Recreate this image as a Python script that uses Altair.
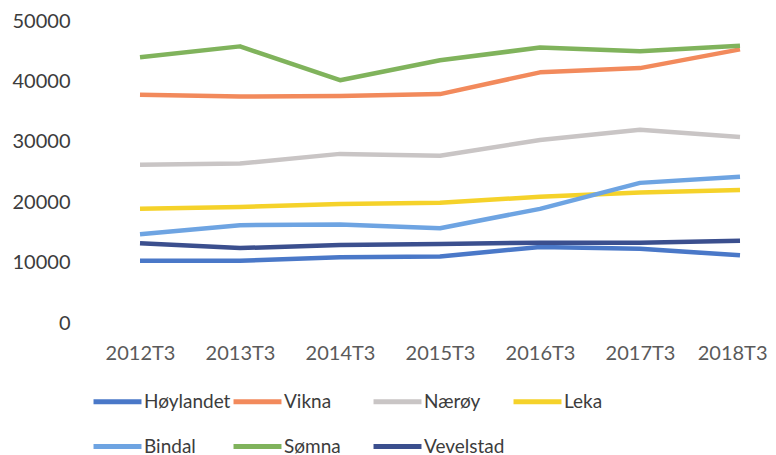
import altair as alt
import pandas as pd

years = ["2012T3", "2013T3", "2014T3", "2015T3", "2016T3", "2017T3", "2018T3"]
hoylandet = [10300, 10300, 10900, 11000, 12600, 12300, 11200]
vikna = [37800, 37500, 37600, 37900, 41500, 42200, 45300]
naeroy = [26200, 26400, 28000, 27700, 30300, 32000, 30800]
leka = [18900, 19200, 19700, 19900, 20900, 21600, 22000]
bindal = [14700, 16200, 16300, 15700, 18900, 23200, 24200]
somna = [44000, 45800, 40200, 43500, 45600, 45000, 45900]
vevelstad = [13200, 12400, 12900, 13100, 13300, 13300, 13600]

names = ["Høylandet", "Vikna", "Nærøy", "Leka", "Bindal", "Sømna", "Vevelstad"]
series = [hoylandet, vikna, naeroy, leka, bindal, somna, vevelstad]
colors = ["#4a78c8", "#f28a5c", "#c9c5c5", "#f5d22a", "#6ea4e2", "#80b35c", "#3b4f8e"]

rows = []
for n, vals in zip(names, series):
    for y, v in zip(years, vals):
        rows.append({"name": n, "year": y, "value": v})
df = pd.DataFrame(rows)

last_label = "datum.value == '2018T3'"

chart = (
    alt.Chart(df)
    .mark_line(strokeWidth=4.5, strokeJoin="round")
    .encode(
        x=alt.X(
            "year:N",
            sort=years,
            scale=alt.Scale(type="point", padding=0),
            axis=alt.Axis(
                title=None, labelAngle=0, ticks=False, domain=False, grid=False,
                labelFont="Lato", labelFontSize=20, labelColor="#5a5a5a",
                labelPadding=20,
                labelAlign={"condition": {"test": last_label, "value": "right"}, "value": "center"},
                labelOffset={"condition": {"test": last_label, "value": 27}, "value": 0},
            ),
        ),
        y=alt.Y(
            "value:Q",
            scale=alt.Scale(domain=[0, 50000]),
            axis=alt.Axis(
                title=None, values=[0, 10000, 20000, 30000, 40000, 50000],
                format="d", ticks=False, domain=False, grid=False,
                labelFont="Lato", labelFontSize=20, labelColor="#3c3c3c",
                labelPadding=70,
            ),
        ),
        color=alt.Color(
            "name:N",
            sort=names,
            scale=alt.Scale(domain=names, range=colors),
            legend=alt.Legend(
                title=None, orient="none", legendX=-49, legendY=354,
                direction="horizontal",
                columns=4, gridAlign="all", columnPadding=-14, rowPadding=8,
                symbolType="stroke", symbolSize=2300, symbolStrokeWidth=5,
                labelFont="Lato", labelFontSize=19, labelColor="#3c3c3c",
                labelOffset=0,
            ),
        ),
    )
    .properties(
        width=600,
        height=302,
        autosize="none",
        padding={"left": 132, "top": 13, "right": 28, "bottom": 132},
        background="white",
    )
    .configure_view(stroke=None)
)

chart.save("out.html", embed_options={"renderer": "svg", "actions": False})
